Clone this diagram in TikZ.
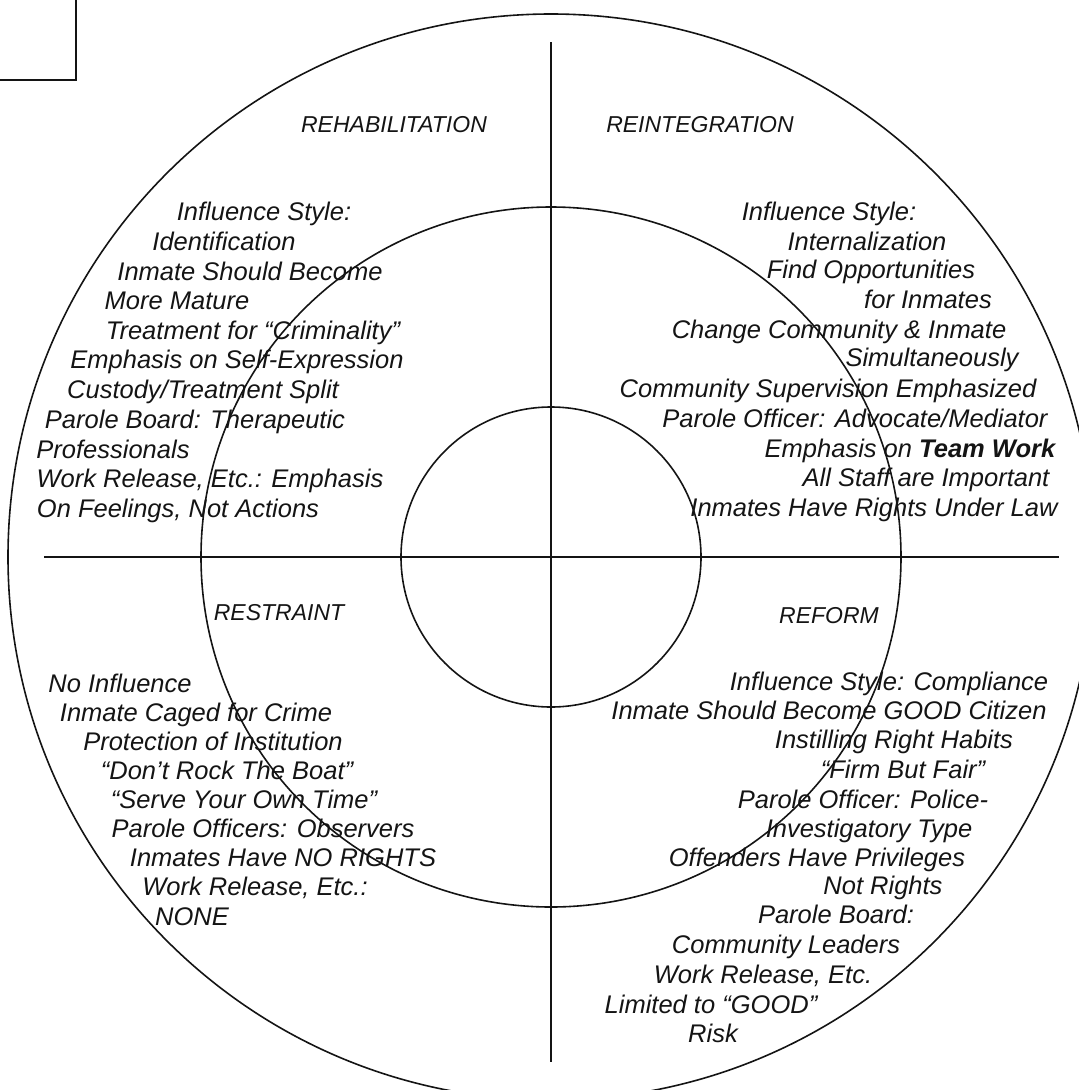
\documentclass[tikz,border=0pt]{standalone}
\usepackage{fontspec}
\setmainfont{Liberation Sans}
\usetikzlibrary{positioning}
\colorlet{inkColor}{black!92}
\tikzstyle{ring}=[line width=1.6pt, draw=inkColor]
\tikzstyle{axis}=[line width=2.3pt, draw=inkColor]
\tikzstyle{cornerMark}=[line width=2.6pt, draw=inkColor]
\tikzstyle{quadHead}=[anchor=base, inner sep=0pt, text=inkColor,
font=\itshape\fontsize{23}{27}\selectfont]
\tikzstyle{quadItem}=[anchor=base, inner sep=0pt, text=inkColor,
font=\itshape\fontsize{25.5}{30}\selectfont]

\begin{document}
\begin{tikzpicture}[x=1pt, y=-1pt]
  \useasboundingbox (0,0) rectangle (1079,1090);
  \coordinate (hub) at (551,557);
  % rings
  \draw [ring] (hub) circle [radius=543pt];
  \draw [ring] (hub) circle [radius=350pt];
  \draw [ring] (hub) circle [radius=150pt];
  % axes
  \coordinate (axisN) at (551,42);
  \coordinate (axisS) at (551,1062);
  \coordinate (axisW) at (44,557);
  \coordinate (axisE) at (1059,557);
  \draw [axis] (axisN) -- (axisS);
  \draw [axis] (axisW) -- (axisE);
  % corner mark
  \coordinate (markA) at (0,80);
  \coordinate (markB) at (76,80);
  \coordinate (markC) at (76,0);
  \draw [cornerMark] (markA) -- (markB) -- (markC);
  % quadrant titles
  \node(rehab) [quadHead] at (394,132) {REHABILITATION};
  \node(reint) [quadHead] at (700,132) {REINTEGRATION};
  \node(restr) [quadHead] at (279,620) {RESTRAINT};
  \node(reform) [quadHead] at (829,623) {REFORM};
  % rehabilitation
  \foreach \cx/\bl/\txt [count=\i] in {264/220/{Influence Style:},
      224/250/{Identification}, 250/280/{Inmate Should Become},
      177/309/{More Mature}, 253/339/{Treatment for “Criminality”},
      237/368/{Emphasis on Self-Expression}, 203/398/{Custody/Treatment Split},
      195/428/{Parole Board: Therapeutic}, 113/458/{Professionals},
      210/487/{Work Release, Etc.: Emphasis}, 178/517/{On Feelings, Not Actions}}
    \node(rehab\i) [quadItem] at (\cx,\bl) {\txt};
  % reintegration
  \foreach \cx/\bl/\txt [count=\i] in {829/220/{Influence Style:},
      867/250/{Internalization}, 871/278/{Find Opportunities},
      928/308/{for Inmates}, 839/338/{Change Community \& Inmate},
      932/366/{Simultaneously}, 828/397/{Community Supervision Emphasized},
      855/427/{Parole Officer: Advocate/Mediator},
      910/457/{Emphasis on {\bfseries Team Work}},
      926/486/{All Staff are Important}, 874/516/{Inmates Have Rights Under Law}}
    \node(reint\i) [quadItem] at (\cx,\bl) {\txt};
  % restraint
  \foreach \cx/\bl/\txt [count=\i] in {120/692/{No Influence},
      196/721/{Inmate Caged for Crime}, 213/750/{Protection of Institution},
      227/779/{“Don’t Rock The Boat”}, 244/808/{“Serve Your Own Time”},
      263/837/{Parole Officers: Observers}, 283/866/{Inmates Have NO RIGHTS},
      255/895/{Work Release, Etc.:}, 192/925/{NONE}}
    \node(restr\i) [quadItem] at (\cx,\bl) {\txt};
  % reform
  \foreach \cx/\bl/\txt [count=\i] in {889/690/{Influence Style: Compliance},
      829/719/{Inmate Should Become GOOD Citizen},
      894/748/{Instilling Right Habits}, 903/778/{“Firm But Fair”},
      863/808/{Parole Officer: Police-}, 869/837/{Investigatory Type},
      817/866/{Offenders Have Privileges}, 883/894/{Not Rights},
      836/923/{Parole Board:}, 786/953/{Community Leaders},
      763/983/{Work Release, Etc.}, 711/1013/{Limited to “GOOD”},
      713/1042/{Risk}}
    \node(reform\i) [quadItem] at (\cx,\bl) {\txt};
\end{tikzpicture}
\end{document}
